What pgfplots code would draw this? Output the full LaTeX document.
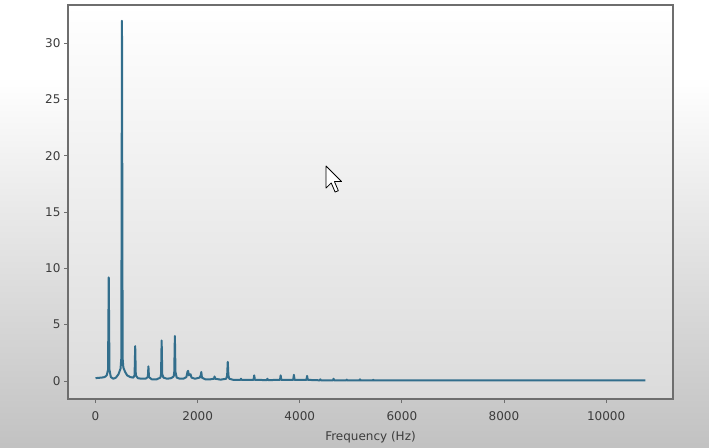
\documentclass[border=0pt]{standalone}
\usepackage{pgfplots}
\pgfplotsset{compat=1.18}
\usepackage{fontspec}
\setmainfont{DejaVu Sans}
\definecolor{specline}{RGB}{50,110,140}
\definecolor{framec}{RGB}{110,110,110}
\definecolor{txt}{RGB}{60,60,60}
\begin{document}
\begin{tikzpicture}
\path[use as bounding box] (0pt,0pt) rectangle (709pt,447pt);
\fill[white] (0pt,0pt) rectangle (709pt,447pt);
\shade[top color=white,bottom color=black!24] (0pt,0pt) rectangle (709pt,370pt);
\begin{axis}[at={(68pt,48pt)}, anchor=south west, scale only axis,
 width=605pt, height=394pt,
 xmin=-539, xmax=11310, ymin=-1.6, ymax=33.4,
 xtick={0,2000,4000,6000,8000,10000}, ytick={0,5,10,15,20,25,30},
 scaled x ticks=false, xticklabel style={/pgf/number format/1000 sep={}, yshift=-5pt},
 tick align=outside, tick pos=left, major tick length=4pt,
 axis line style={framec, line width=1.3pt}, tick style={framec, line width=0.8pt},
 ticklabel style={font=\fontsize{12}{14}\selectfont, text=txt},
 /pgf/number format/assume math mode=true,
 xlabel={Frequency (Hz)}, xlabel style={font=\fontsize{12}{14}\selectfont, text=txt, yshift=-4pt},
 axis background/.style={shade, top color=white, bottom color=black!14},
 clip=false,
]
\addplot[specline, line width=2pt, line join=round] coordinates {
(0,0.25)(60,0.28)(120,0.3)(180,0.35)(220,0.5)(245,1.0)(259,9.2)(273,1.0)(300,0.35)(350,0.2)(400,0.3)(450,0.6)(490,1.1)(505,2.0)(518,32.0)(531,2.0)(545,1.2)(580,0.8)(620,0.5)(680,0.35)(740,0.3)(765,0.5)(777,3.1)(789,0.5)(830,0.25)(900,0.2)(980,0.2)(1025,0.35)(1036,1.3)(1047,0.35)(1100,0.15)(1200,0.15)(1270,0.3)(1283,0.6)(1295,3.6)(1307,0.6)(1330,0.3)(1400,0.2)(1480,0.25)(1530,0.4)(1542,0.8)(1554,4.0)(1566,0.8)(1590,0.3)(1650,0.2)(1720,0.2)(1780,0.35)(1800,0.8)(1813,0.9)(1830,0.5)(1860,0.6)(1880,0.3)(1950,0.2)(2040,0.3)(2060,0.5)(2072,0.8)(2084,0.3)(2150,0.15)(2250,0.15)(2320,0.2)(2331,0.4)(2342,0.2)(2450,0.12)(2560,0.2)(2578,0.5)(2590,1.7)(2602,0.5)(2620,0.2)(2700,0.1)(2840,0.1)(2849,0.2)(2858,0.1)(3095,0.1)(3108,0.5)(3121,0.1)(3355,0.08)(3367,0.2)(3379,0.08)(3613,0.1)(3626,0.5)(3639,0.1)(3872,0.1)(3885,0.55)(3898,0.1)(4131,0.1)(4144,0.45)(4157,0.1)(4390,0.06)(4403,0.15)(4416,0.06)(4650,0.06)(4662,0.2)(4674,0.06)(4910,0.05)(4921,0.12)(4932,0.05)(5170,0.05)(5180,0.15)(5190,0.05)(5430,0.05)(5439,0.1)(5448,0.05)(6000,0.05)(7000,0.05)(8000,0.05)(9000,0.05)(10000,0.05)(10770,0.05)
};
\end{axis}
\begin{scope}[shift={(326pt,281pt)}, scale=1.3]
\filldraw[fill=white, draw=black, line width=0.8pt, line join=round]
 (0pt,0pt)--(0pt,-17pt)--(4pt,-13pt)--(7pt,-20pt)--(9.5pt,-19pt)--(6.5pt,-12pt)--(12pt,-12pt)--cycle;
\end{scope}
\end{tikzpicture}
\end{document}
